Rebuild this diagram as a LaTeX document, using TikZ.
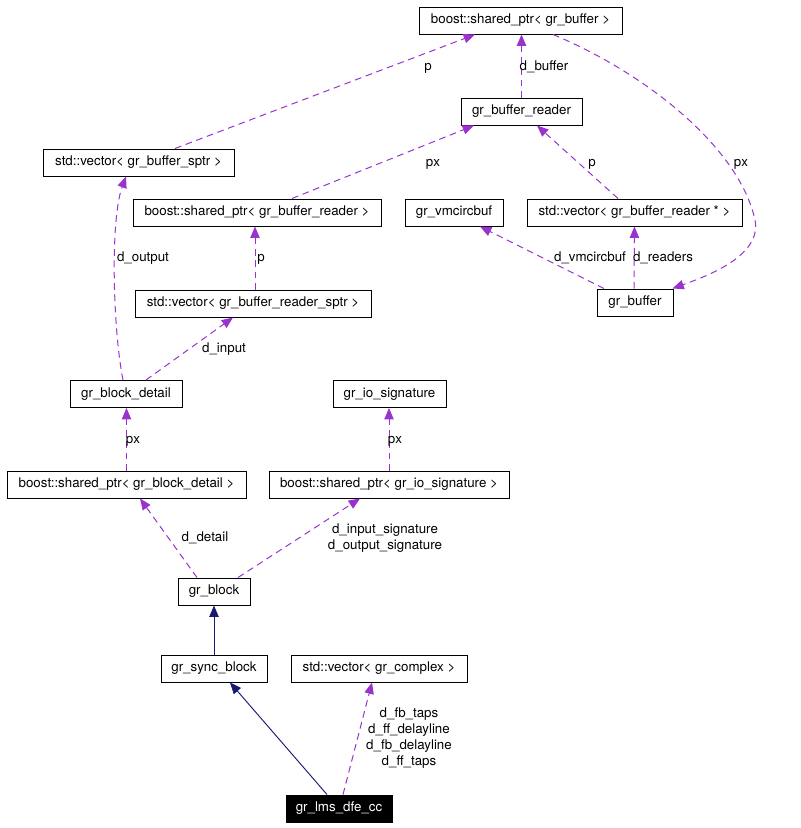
\documentclass[tikz,border=0pt]{standalone}
\usepackage{fontspec}
\setmainfont{TeX Gyre Heros}
\usetikzlibrary{arrows.meta,calc}
\definecolor{orchid}{RGB}{154,50,205}
\definecolor{navyblue}{RGB}{25,25,112}

\begin{document}
\begin{tikzpicture}[x=0.75pt,y=-0.75pt,
		cls/.style={draw,line width=0.75pt,minimum height=20.25pt,inner sep=0pt,font=\fontsize{10}{12}\selectfont},
		usage/.style={orchid,line width=0.75pt,dash pattern=on 5pt off 3.5pt,-{Triangle[length=8.5pt,width=7pt]}},
		inherit/.style={navyblue,line width=0.7pt,-{Triangle[length=8.5pt,width=7pt]}},
		lbl/.style={anchor=base,inner sep=0pt,font=\fontsize{10}{12}\selectfont}]
		\useasboundingbox (0,0) rectangle (800,828);
		
		% classes
		\node[cls,minimum width=152.25pt] (sbuf) at (520.5,20.5) {boost::shared\_ptr< gr\_buffer >};
		\node[cls,minimum width=90.75pt] (rdr) at (521.5,111.5) {gr\_buffer\_reader};
		\node[cls,minimum width=143.25pt] (vbufsp) at (138.5,162.5) {std::vector< gr\_buffer\_sptr >};
		\node[cls,minimum width=186pt] (srdr) at (257,212.5) {boost::shared\_ptr< gr\_buffer\_reader >};
		\node[cls,minimum width=73.5pt] (vmc) at (454,212.5) {gr\_vmcircbuf};
		\node[cls,minimum width=161.25pt] (vrdrp) at (634.5,212.5) {std::vector< gr\_buffer\_reader * >};
		\node[cls,minimum width=177pt] (vrdrsp) at (253,303.5) {std::vector< gr\_buffer\_reader\_sptr >};
		\node[cls,minimum width=57pt] (buf) at (635,302.5) {gr\_buffer};
		\node[cls,minimum width=84pt] (bdet) at (126,394) {gr\_block\_detail};
		\node[cls,minimum width=84.75pt] (iosig) at (389.5,394) {gr\_io\_signature};
		\node[cls,minimum width=179.25pt] (sbdet) at (126.5,484.5) {boost::shared\_ptr< gr\_block\_detail >};
		\node[cls,minimum width=180pt] (siosig) at (389,484.5) {boost::shared\_ptr< gr\_io\_signature >};
		\node[cls,minimum width=54pt] (blk) at (214,591.5) {gr\_block};
		\node[cls,minimum width=79.5pt] (sync) at (214,668.5) {gr\_sync\_block};
		\node[cls,minimum width=132pt] (vcpx) at (379,668.5) {std::vector< gr\_complex >};
		\node[cls,minimum width=79.5pt,fill=black,text=white] (lms) at (339,808.5) {gr\_lms\_dfe\_cc};
		
		% usage relations
		\draw[usage] ($(vbufsp.north)+(36.5,0)$) -- ($(sbuf.south)+(-45.5,0)$);
		\draw[usage] (rdr.north) -- (rdr.north |- sbuf.south);
		\draw[usage] ($(sbuf.south)+(32.5,0)$) .. controls (650,75) and (740,150) .. (755,220)
			.. controls (762,255) and (710,275) .. ($(buf.north east)+(-1,0)$);
		\draw[usage] ($(srdr.north)+(35,0)$) -- ($(rdr.south)+(-47.5,0)$);
		\draw[usage] ($(vrdrp.north)+(-16.5,0)$) -- ($(rdr.south)+(15.5,0)$);
		\draw[usage] ($(bdet.north)+(-3,0)$) .. controls (113,330) and (110,220) .. ($(vbufsp.south)+(-12.5,0)$);
		\draw[usage] ($(vrdrsp.north)+(2,0)$) -- ($(srdr.south)+(-2,0)$);
		\draw[usage] ($(buf.north)+(-31,0)$) -- ($(vmc.south)+(26,0)$);
		\draw[usage] ($(buf.north)+(-1,0)$) -- (vrdrp.south);
		\draw[usage] ($(bdet.north)+(20,0)$) -- ($(vrdrsp.south)+(-20,0)$);
		\draw[usage] (sbdet.north) -- (sbdet.north |- bdet.south);
		\draw[usage] (siosig.north) -- (siosig.north |- iosig.south);
		\draw[usage] ($(blk.north)+(-17,0)$) -- ($(sbdet.south)+(13.5,0)$);
		\draw[usage] ($(blk.north)+(24,0)$) -- ($(siosig.south)+(-29,0)$);
		\draw[usage] ($(lms.north)+(4,0)$) -- ($(vcpx.south)+(-7,0)$);
		
		% inheritance
		\draw[inherit] (sync.north) -- (blk.south);
		\draw[inherit] ($(lms.north)+(-12,0)$) -- ($(sync.south)+(16,0)$);
		
		% member names
		\node[lbl] (l-p1) at (428,70) {p};
		\node[lbl] (l-dbuf) at (544,70) {d\_buffer};
		\node[lbl] (l-px1) at (741,166) {px};
		\node[lbl] (l-px2) at (433,166) {px};
		\node[lbl] (l-p2) at (592,166) {p};
		\node[lbl] (l-dout) at (143,261) {d\_output};
		\node[lbl] (l-p3) at (261,261) {p};
		\node[lbl] (l-dvmc) at (590,261) {d\_vmcircbuf};
		\node[lbl] (l-drdr) at (663,261) {d\_readers};
		\node[lbl] (l-din) at (224,352) {d\_input};
		\node[lbl] (l-px3) at (133,443) {px};
		\node[lbl] (l-px4) at (395,443) {px};
		\node[lbl] (l-ddet) at (205,541) {d\_detail};
		\node[lbl] (l-dsig1) at (385,533) {d\_input\_signature};
		\node[lbl] (l-dsig2) at (385,549) {d\_output\_signature};
		\node[lbl] (l-taps1) at (409,717) {d\_fb\_taps};
		\node[lbl] (l-taps2) at (409,733) {d\_ff\_delayline};
		\node[lbl] (l-taps3) at (409,749) {d\_fb\_delayline};
		\node[lbl] (l-taps4) at (409,765) {d\_ff\_taps};
	\end{tikzpicture}
\end{document}
